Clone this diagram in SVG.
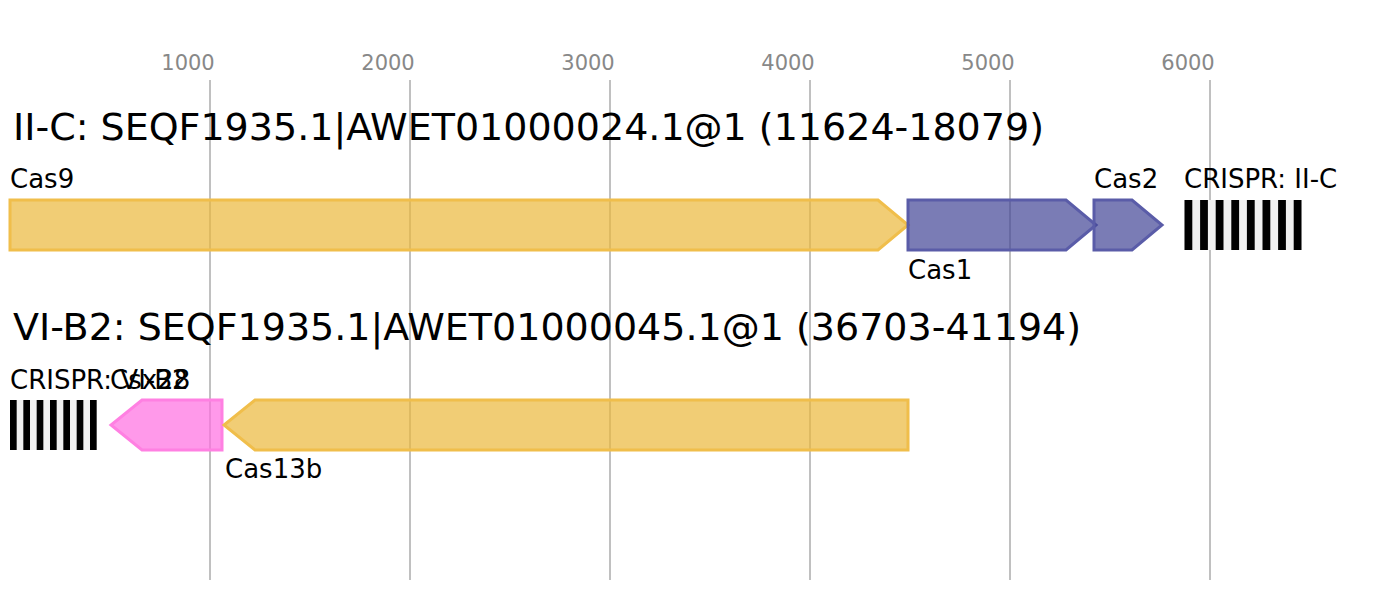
<svg xmlns="http://www.w3.org/2000/svg" width="1391" height="600" viewBox="0 0 1391 600">
<style>
text{font-family:"DejaVu Sans","Liberation Sans",sans-serif;fill:#000}
.axis{font-size:21px;fill:#888;text-anchor:middle}
.title{font-size:38px}
.lab{font-size:26px}
.grid{stroke:#c0c0c0;stroke-width:2}
.y{fill:#ebb83b;fill-opacity:0.7;stroke:#f0be4b;stroke-width:3}
.b{fill:#424596;fill-opacity:0.7;stroke:#5a5ca8;stroke-width:3}
.p{fill:#ff6de1;fill-opacity:0.7;stroke:#ff80e2;stroke-width:3}
.bg{fill:#f0f0f0}
.bar{fill:#000}
</style>
<rect width="1391" height="600" fill="#fff"/>
<g id="axis">
<line class="grid" x1="210" y1="80" x2="210" y2="580"/>
<line class="grid" x1="410" y1="80" x2="410" y2="580"/>
<line class="grid" x1="610" y1="80" x2="610" y2="580"/>
<line class="grid" x1="810" y1="80" x2="810" y2="580"/>
<line class="grid" x1="1010" y1="80" x2="1010" y2="580"/>
<line class="grid" x1="1210" y1="80" x2="1210" y2="580"/>
<text class="axis" x="188" y="70">1000</text>
<text class="axis" x="388" y="70">2000</text>
<text class="axis" x="588" y="70">3000</text>
<text class="axis" x="788" y="70">4000</text>
<text class="axis" x="988" y="70">5000</text>
<text class="axis" x="1188" y="70">6000</text>
</g>
<text class="title" x="13" y="140">II-C: SEQF1935.1|AWET01000024.1@1 (11624-18079)</text>
<text class="title" x="13" y="340">VI-B2: SEQF1935.1|AWET01000045.1@1 (36703-41194)</text>
<g id="cas9">
<polygon class="y" points="10,200 878,200 908,225 878,250 10,250"/>
<text class="lab" x="10" y="188">Cas9</text>
</g>
<g id="cas1">
<polygon class="b" points="908,200 1066,200 1096,225 1066,250 908,250"/>
<text class="lab" x="908" y="279">Cas1</text>
</g>
<g id="cas2">
<polygon class="b" points="1094,200 1132,200 1162,225 1132,250 1094,250"/>
<text class="lab" x="1094" y="188">Cas2</text>
</g>
<g id="crispr1">
<rect class="bg" x="1184.5" y="200" width="117" height="50"/>
<rect class="bar" x="1184.5" y="200" width="7.8" height="50"/>
<rect class="bar" x="1200.1" y="200" width="7.8" height="50"/>
<rect class="bar" x="1215.7" y="200" width="7.8" height="50"/>
<rect class="bar" x="1231.3" y="200" width="7.8" height="50"/>
<rect class="bar" x="1246.9" y="200" width="7.8" height="50"/>
<rect class="bar" x="1262.5" y="200" width="7.8" height="50"/>
<rect class="bar" x="1278.1" y="200" width="7.8" height="50"/>
<rect class="bar" x="1293.7" y="200" width="7.8" height="50"/>
<text class="lab" x="1184" y="188">CRISPR: II-C</text>
</g>
<g id="crispr2">
<rect class="bg" x="10" y="400" width="86.7" height="50"/>
<rect class="bar" x="10" y="400" width="6.67" height="50"/>
<rect class="bar" x="23.33" y="400" width="6.67" height="50"/>
<rect class="bar" x="36.67" y="400" width="6.67" height="50"/>
<rect class="bar" x="50" y="400" width="6.67" height="50"/>
<rect class="bar" x="63.33" y="400" width="6.67" height="50"/>
<rect class="bar" x="76.67" y="400" width="6.67" height="50"/>
<rect class="bar" x="90" y="400" width="6.67" height="50"/>
<text class="lab" x="10" y="389">CRISPR: VI-B2</text>
</g>
<g id="csx28">
<polygon class="p" points="222,400 142,400 111,425 142,450 222,450"/>
<text class="lab" x="110" y="389">Csx28</text>
</g>
<g id="cas13b">
<polygon class="y" points="908,400 255,400 224,425 255,450 908,450"/>
<text class="lab" x="225" y="478">Cas13b</text>
</g>
<g id="connectors"></g>
</svg>
